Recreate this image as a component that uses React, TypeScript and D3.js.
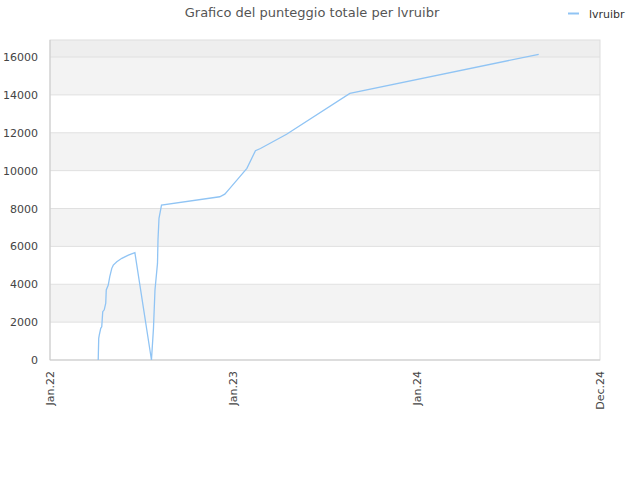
import React from "react";
import * as d3 from "d3";

const seriesName = "lvruibr";
const dates = [
  "2022-04-07", "2022-04-08", "2022-04-09", "2022-04-12", "2022-04-14", "2022-04-16",
  "2022-04-19", "2022-04-22", "2022-04-23", "2022-04-27", "2022-04-30", "2022-05-04",
  "2022-05-07", "2022-05-14", "2022-05-24", "2022-06-06", "2022-06-19",
  "2022-07-22", "2022-07-26", "2022-07-29", "2022-08-03", "2022-08-04", "2022-08-06",
  "2022-08-11", "2022-12-05", "2022-12-15", "2022-12-25", "2023-01-14", "2023-01-28",
  "2023-02-14", "2023-02-24", "2023-04-17", "2023-08-21", "2024-08-31",
];
const scores = [
  0, 1140, 1300, 1670, 1750, 2550, 2650, 3000, 3700, 3960, 4400, 4840,
  5010, 5190, 5370, 5540, 5665,
  0, 1670, 3700, 5100, 6340, 7480,
  8180, 8620, 8760, 9060, 9680, 10120,
  11050, 11170, 11920, 14080, 16140,
];
const yTicks = [0, 2000, 4000, 6000, 8000, 10000, 12000, 14000, 16000];
const xTickDates = ["2022-01-01", "2023-01-01", "2024-01-01", "2024-12-31"];
const xTickLabels = ["Jan.22", "Jan.23", "Jan.24", "Dec.24"];

const W = 640, H = 480;
const M = { left: 50, right: 600, top: 40, bottom: 360 };
const font = "DejaVu Sans, sans-serif";

export default function App() {
  const parse = d3.utcParse("%Y-%m-%d");
  const x = d3.scaleUtc()
    .domain([parse("2022-01-01")!, parse("2024-12-31")!])
    .range([M.left, M.right]);
  const y = d3.scaleLinear().domain([0, 16000]).range([M.bottom, 57]);
  const yTop = y.invert(M.top);
  const pts = dates.map((d, i) => [parse(d)!, scores[i]] as [Date, number]);
  const line = d3.line<[Date, number]>().x(d => x(d[0])).y(d => y(d[1]));

  const bands = [] as { lo: number; hi: number; fill: string }[];
  for (let i = 0; i < yTicks.length - 1; i++) {
    bands.push({ lo: yTicks[i], hi: yTicks[i + 1], fill: i % 2 === 1 ? "#f3f3f3" : "#ffffff" });
  }
  bands.push({ lo: 16000, hi: yTop, fill: "#eeeeee" });

  return (
    <svg width={W} height={H} style={{ position: "absolute", left: 0, top: 0 }} fontFamily={font}>
      <rect x={0} y={0} width={W} height={H} fill="#fff" />
      {bands.map((b, i) => (
        <rect key={i} x={M.left} y={y(b.hi)} width={M.right - M.left} height={y(b.lo) - y(b.hi)} fill={b.fill} />
      ))}
      {yTicks.slice(1).map(t => (
        <line key={t} x1={M.left} x2={M.right} y1={y(t)} y2={y(t)} stroke="#e0e0e0" strokeWidth={1} />
      ))}
      <rect x={M.left} y={M.top} width={M.right - M.left} height={M.bottom - M.top} fill="none" stroke="#dddddd" strokeWidth={1} />
      <line x1={M.left} x2={M.left} y1={M.top} y2={M.bottom} stroke="#cccccc" />
      <line x1={M.left} x2={M.right} y1={M.bottom} y2={M.bottom} stroke="#cccccc" />
      <path d={line(pts) || ""} fill="none" stroke="#90c4f4" strokeWidth={1.3} />
      {yTicks.map(t => (
        <text key={t} x={38} y={y(t) + 4} textAnchor="end" fontSize={11} fill="#444">{t}</text>
      ))}
      {xTickDates.map((d, i) => {
        const xx = x(parse(d)!);
        return (
          <text key={d} transform={`translate(${xx + 4},${371}) rotate(-90)`} textAnchor="end" fontSize={11} fill="#444">
            {xTickLabels[i]}
          </text>
        );
      })}
      <text x={312} y={17} textAnchor="middle" fontSize={13} fill="#555">Grafico del punteggio totale per {seriesName}</text>
      <line x1={568} x2={579} y1={13.5} y2={13.5} stroke="#90c4f4" strokeWidth={2} />
      <text x={589} y={18} fontSize={11} fill="#333">{seriesName}</text>
    </svg>
  );
}
